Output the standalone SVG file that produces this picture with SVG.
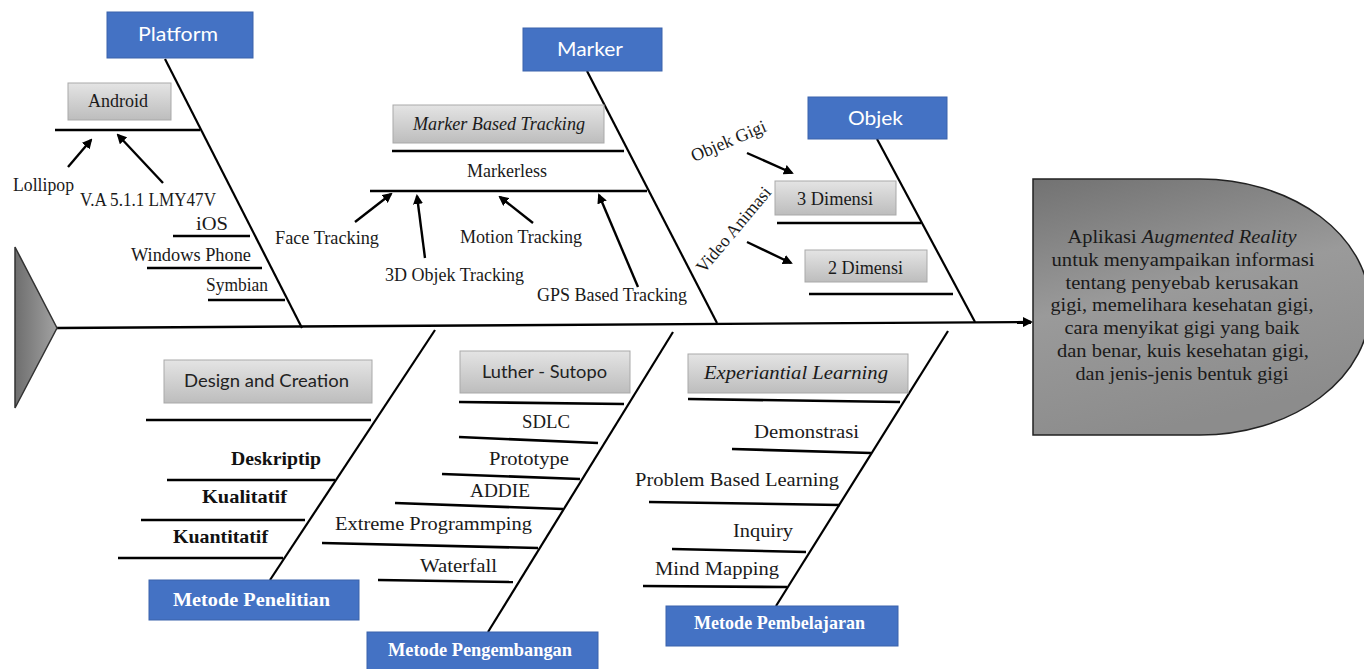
<svg xmlns="http://www.w3.org/2000/svg" width="1364" height="669" viewBox="0 0 1364 669">
<style>
.bg{fill:#ffffff}
.cat rect{fill:#4472C4;stroke:#3b63ab;stroke-width:1}
.cat text{fill:#ffffff;font-family:Lato,"Open Sans",sans-serif;font-size:20px;text-anchor:start}
.catb text{fill:#ffffff;font-family:"Liberation Serif",serif;font-size:19px;font-weight:bold}
.sub rect{fill:url(#gbox);stroke:#a9a9a9;stroke-width:1}
.t{fill:#1a1a1a;font-family:"Liberation Serif",serif;font-size:18px}
.ts{fill:#222;font-family:Lato,"Open Sans",sans-serif;font-size:18px}
.tb{fill:#111;font-family:"Liberation Serif",serif;font-size:19px;font-weight:bold}
.it{font-style:italic}
.bone{stroke:#000;stroke-width:2.2;fill:none}
.br{stroke:#000;stroke-width:2.6;fill:none}
.arr{stroke:#000;stroke-width:2.4;fill:none;marker-end:url(#ah)}
.head text{fill:#1a1a1a;font-family:"Liberation Serif",serif;font-size:18px;text-anchor:middle}
</style>
<defs>
<marker id="ah" viewBox="0 0 10 10" refX="8" refY="5" markerWidth="4.2" markerHeight="4.2" orient="auto" markerUnits="strokeWidth">
<path d="M0,0 L10,5 L0,10 z" fill="#000"/>
</marker>
<linearGradient id="gbox" x1="0" y1="0" x2="0" y2="1">
<stop offset="0" stop-color="#e4e4e4"/>
<stop offset="1" stop-color="#bdbdbd"/>
</linearGradient>
<linearGradient id="ghead" x1="0" y1="0" x2="0.3" y2="1">
<stop offset="0" stop-color="#727272"/>
<stop offset="0.5" stop-color="#9a9a9a"/>
<stop offset="1" stop-color="#8c8c8c"/>
</linearGradient>
<linearGradient id="gtail" x1="0" y1="0" x2="1" y2="0">
<stop offset="0" stop-color="#6e6e6e"/>
<stop offset="1" stop-color="#a2a2a2"/>
</linearGradient>
</defs>
<rect class="bg" x="0" y="0" width="1364" height="669"/>

<g id="connectors">
<line class="arr" x1="57" y1="328" x2="1031" y2="322"/>
<line class="bone" x1="165" y1="59" x2="302" y2="328"/>
<line class="bone" x1="587" y1="71" x2="717" y2="323"/>
<line class="bone" x1="877" y1="139" x2="975" y2="322"/>
<line class="bone" x1="435" y1="330" x2="270" y2="580"/>
<line class="bone" x1="673" y1="332" x2="488" y2="632"/>
<line class="bone" x1="948" y1="331" x2="776" y2="606"/>
<line class="arr" x1="68" y1="167" x2="91" y2="140"/>
<line class="arr" x1="163" y1="183" x2="118" y2="135"/>
<line class="arr" x1="355" y1="222" x2="391" y2="194"/>
<line class="arr" x1="425" y1="258" x2="417" y2="196"/>
<line class="arr" x1="533" y1="223" x2="500" y2="197"/>
<line class="arr" x1="638" y1="287" x2="599" y2="195"/>
<line class="arr" x1="747" y1="153" x2="792" y2="173"/>
<line class="arr" x1="747" y1="242" x2="791" y2="263"/>
</g>

<g id="tail">
<path d="M15,247 L57,328 L15,408 Z" fill="url(#gtail)" stroke="#333" stroke-width="1.5"/>
</g>

<g id="head" class="head">
<path d="M1033,179 H1200 A170,128 0 0 1 1200,435 H1033 Z" fill="url(#ghead)" stroke="#222" stroke-width="1.5"/>
<text x="1182" y="243" textLength="229" lengthAdjust="spacingAndGlyphs">Aplikasi <tspan font-style="italic">Augmented Reality</tspan></text>
<text x="1183" y="266" textLength="263" lengthAdjust="spacingAndGlyphs">untuk menyampaikan informasi</text>
<text x="1182" y="289" textLength="233" lengthAdjust="spacingAndGlyphs">tentang penyebab kerusakan</text>
<text x="1182" y="311" textLength="263" lengthAdjust="spacingAndGlyphs">gigi,  memelihara kesehatan gigi,</text>
<text x="1182" y="334" textLength="235" lengthAdjust="spacingAndGlyphs">cara menyikat gigi yang baik</text>
<text x="1183" y="357" textLength="252" lengthAdjust="spacingAndGlyphs">dan benar, kuis kesehatan gigi,</text>
<text x="1182" y="380" textLength="213" lengthAdjust="spacingAndGlyphs">dan jenis-jenis bentuk gigi</text>
</g>

<!-- Platform -->
<g id="platform" class="cat">
<rect x="107" y="12" width="146" height="46"/>
<text x="138" y="41" textLength="80" lengthAdjust="spacingAndGlyphs">Platform</text>
</g>
<g id="android" class="sub">
<rect x="68" y="83" width="103" height="37"/>
<text class="t" x="88" y="107" textLength="60" lengthAdjust="spacingAndGlyphs">Android</text>
<line class="br" x1="55" y1="130" x2="200" y2="130"/>
</g>
<g id="lollipop"><text class="t" x="13" y="191" textLength="61" lengthAdjust="spacingAndGlyphs">Lollipop</text></g>
<g id="va"><text class="t" x="80" y="206" textLength="136" lengthAdjust="spacingAndGlyphs">V.A 5.1.1 LMY47V</text></g>
<g id="ios"><text class="t" x="196" y="230" textLength="32" lengthAdjust="spacingAndGlyphs">iOS</text>
<line class="br" x1="173" y1="236" x2="250" y2="236"/></g>
<g id="windows"><text class="t" x="131" y="261" textLength="120" lengthAdjust="spacingAndGlyphs">Windows Phone</text>
<line class="br" x1="147" y1="268" x2="262" y2="268"/></g>
<g id="symbian"><text class="t" x="206" y="291" textLength="62" lengthAdjust="spacingAndGlyphs">Symbian</text>
<line class="br" x1="208" y1="300" x2="285" y2="300"/></g>

<!-- Marker -->
<g id="marker" class="cat">
<rect x="523" y="28" width="139" height="43"/>
<text x="557" y="56" textLength="66" lengthAdjust="spacingAndGlyphs">Marker</text>
</g>
<g id="mbt" class="sub">
<rect x="393" y="105" width="211" height="38"/>
<text class="t it" x="413" y="130" textLength="172" lengthAdjust="spacingAndGlyphs">Marker Based Tracking</text>
<line class="br" x1="392" y1="151" x2="624" y2="151"/>
</g>
<g id="markerless"><text class="t" x="467" y="177" textLength="80" lengthAdjust="spacingAndGlyphs">Markerless</text>
<line class="br" x1="370" y1="191" x2="647" y2="191"/></g>
<g id="face"><text class="t" x="275" y="244" textLength="104" lengthAdjust="spacingAndGlyphs">Face Tracking</text></g>
<g id="motion"><text class="t" x="460" y="243" textLength="122" lengthAdjust="spacingAndGlyphs">Motion Tracking</text></g>
<g id="objek3d"><text class="t" x="385" y="281" textLength="139" lengthAdjust="spacingAndGlyphs">3D Objek Tracking</text></g>
<g id="gps"><text class="t" x="537" y="301" textLength="150" lengthAdjust="spacingAndGlyphs">GPS Based Tracking</text></g>

<!-- Objek -->
<g id="objek" class="cat">
<rect x="808" y="97" width="139" height="42"/>
<text x="848" y="125" textLength="55" lengthAdjust="spacingAndGlyphs">Objek</text>
</g>
<g id="objekgigi"><text class="t" transform="translate(694,162) rotate(-23)" x="0" y="0" textLength="80" lengthAdjust="spacingAndGlyphs">Objek Gigi</text></g>
<g id="videoanimasi"><text class="t" transform="translate(704,274) rotate(-50)" x="0" y="0" textLength="106" lengthAdjust="spacingAndGlyphs">Video Animasi</text></g>
<g id="dim3" class="sub">
<rect x="775" y="181" width="121" height="34"/>
<text class="t" x="797" y="205" textLength="76" lengthAdjust="spacingAndGlyphs">3 Dimensi</text>
<line class="br" x1="777" y1="223" x2="921" y2="223"/>
</g>
<g id="dim2" class="sub">
<rect x="805" y="250" width="122" height="32"/>
<text class="t" x="828" y="274" textLength="75" lengthAdjust="spacingAndGlyphs">2 Dimensi</text>
<line class="br" x1="809" y1="294" x2="953" y2="294"/>
</g>

<!-- Metode Penelitian -->
<g id="penelitian" class="catb">
<rect x="149" y="580" width="210" height="40" fill="#4472C4" stroke="#3b63ab"/>
<text x="173" y="606" textLength="157" lengthAdjust="spacingAndGlyphs">Metode Penelitian</text>
</g>
<g id="design" class="sub">
<rect x="164" y="360" width="208" height="43"/>
<text class="ts" x="184" y="387" textLength="165" lengthAdjust="spacingAndGlyphs">Design and Creation</text>
<line class="br" x1="146" y1="420" x2="371" y2="420"/>
</g>
<g id="deskriptip"><text class="tb" x="231" y="465" textLength="90" lengthAdjust="spacingAndGlyphs">Deskriptip</text>
<line class="br" x1="167" y1="480" x2="335" y2="480"/></g>
<g id="kualitatif"><text class="tb" x="202" y="503" textLength="85" lengthAdjust="spacingAndGlyphs">Kualitatif</text>
<line class="br" x1="141" y1="520" x2="305" y2="520"/></g>
<g id="kuantitatif"><text class="tb" x="173" y="543" textLength="95" lengthAdjust="spacingAndGlyphs">Kuantitatif</text>
<line class="br" x1="118" y1="558" x2="283" y2="558"/></g>

<!-- Metode Pengembangan -->
<g id="pengembangan" class="catb">
<rect x="367" y="632" width="231" height="40" fill="#4472C4" stroke="#3b63ab"/>
<text x="388" y="656" textLength="184" lengthAdjust="spacingAndGlyphs">Metode Pengembangan</text>
</g>
<g id="luther" class="sub">
<rect x="460" y="351" width="170" height="42"/>
<text class="ts" x="482" y="378" textLength="125" lengthAdjust="spacingAndGlyphs">Luther - Sutopo</text>
<line class="br" x1="459" y1="402" x2="624" y2="404"/>
</g>
<g id="sdlc"><text class="t" x="522" y="428" textLength="48" lengthAdjust="spacingAndGlyphs">SDLC</text>
<line class="br" x1="459" y1="437" x2="598" y2="443"/></g>
<g id="prototype"><text class="t" x="489" y="465" textLength="80" lengthAdjust="spacingAndGlyphs">Prototype</text>
<line class="br" x1="442" y1="474" x2="580" y2="479"/></g>
<g id="addie"><text class="t" x="470" y="497" textLength="60" lengthAdjust="spacingAndGlyphs">ADDIE</text>
<line class="br" x1="395" y1="503" x2="563" y2="509"/></g>
<g id="extreme"><text class="t" x="335" y="530" textLength="197" lengthAdjust="spacingAndGlyphs">Extreme Programmping</text>
<line class="br" x1="322" y1="543" x2="538" y2="548"/></g>
<g id="waterfall"><text class="t" x="420" y="572" textLength="77" lengthAdjust="spacingAndGlyphs">Waterfall</text>
<line class="br" x1="378" y1="580" x2="513" y2="582"/></g>

<!-- Metode Pembelajaran -->
<g id="pembelajaran" class="catb">
<rect x="666" y="606" width="232" height="40" fill="#4472C4" stroke="#3b63ab"/>
<text x="694" y="629" textLength="171" lengthAdjust="spacingAndGlyphs">Metode Pembelajaran</text>
</g>
<g id="experiantial" class="sub">
<rect x="688" y="354" width="220" height="39"/>
<text class="t it" x="704" y="379" textLength="184" lengthAdjust="spacingAndGlyphs">Experiantial Learning</text>
<line class="br" x1="688" y1="399" x2="900" y2="402"/>
</g>
<g id="demonstrasi"><text class="t" x="754" y="438" textLength="105" lengthAdjust="spacingAndGlyphs">Demonstrasi</text>
<line class="br" x1="732" y1="449" x2="871" y2="453"/></g>
<g id="pbl"><text class="t" x="635" y="486" textLength="204" lengthAdjust="spacingAndGlyphs">Problem  Based Learning</text>
<line class="br" x1="649" y1="502" x2="840" y2="505"/></g>
<g id="inquiry"><text class="t" x="733" y="537" textLength="60" lengthAdjust="spacingAndGlyphs">Inquiry</text>
<line class="br" x1="672" y1="549" x2="806" y2="552"/></g>
<g id="mindmapping"><text class="t" x="655" y="575" textLength="124" lengthAdjust="spacingAndGlyphs">Mind Mapping</text>
<line class="br" x1="643" y1="586" x2="787" y2="587"/></g>
</svg>
